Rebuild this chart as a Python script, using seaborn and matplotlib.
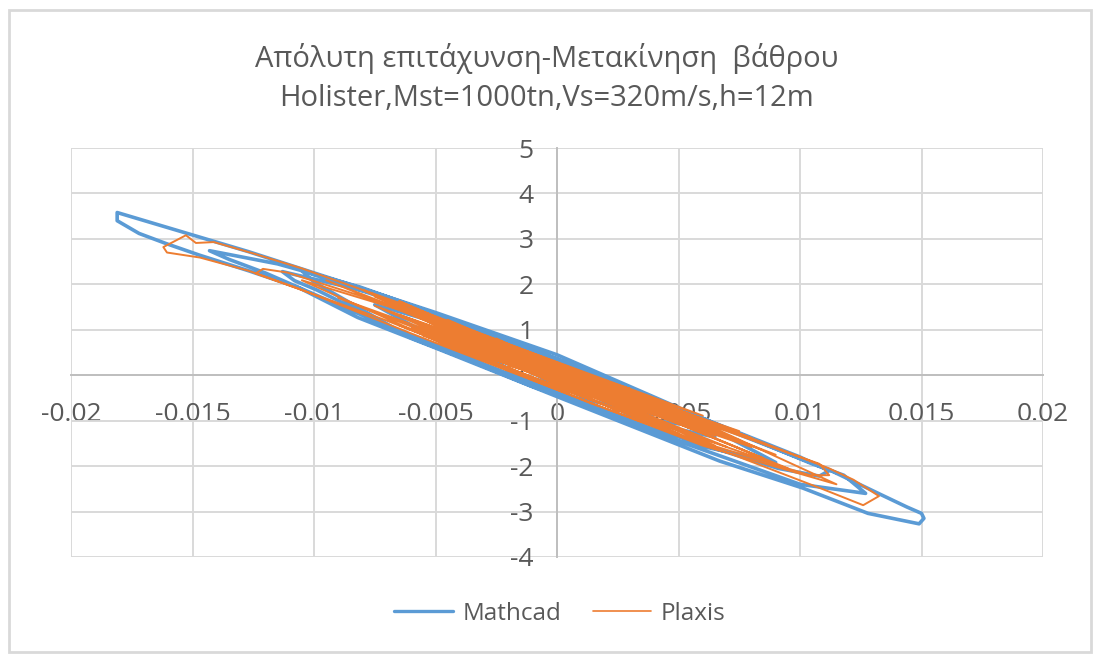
import matplotlib
matplotlib.use("Agg")
import matplotlib.pyplot as plt
import matplotlib.lines as mlines
from matplotlib.patches import Rectangle
import pandas as pd
import seaborn as sns

# ---- data: displacement (m) vs absolute acceleration (m/s2) ----
mathcad_disp = [
    0.0, -0.002, -0.004,
    -0.00175, 0.0005, 0.00275, 0.005,
    0.000925, -0.00315, -0.0072, -0.0113,
    -0.0108, -0.0099, -0.0062, -0.0011, 0.004, 0.0091, 0.0108, 0.0112, 0.0100,
    0.00483, -0.00155, -0.0081, -0.0115, -0.0143,
    -0.0135, -0.0120, -0.0075, -0.0009, 0.005, 0.0100, 0.0127,
    0.0118, 0.0105, 0.0064, 0.0, -0.005, -0.0082, -0.0127, -0.0181, -0.0181,
    -0.0172, -0.0161, -0.0147, -0.0127, -0.0106, -0.0082, -0.005, 0.0, 0.0067, 0.0101, 0.0128, 0.0149, 0.0151,
    0.0150, 0.0144, 0.0133, 0.0112, 0.0067, 0.0, -0.006, -0.0105,
    -0.0100, -0.006, 0.0, 0.005, 0.009,
    0.004, -0.002, -0.0075,
    -0.003, 0.002, 0.0065,
    0.002, -0.003, -0.005,
    0.0, 0.004,
    0.001, -0.002,
    0.0, 0.0005,
]
mathcad_acc = [
    -0.05, 0.66, 0.77,
    0.03, -0.50, -0.89, -1.07,
    0.10, 1.01, 1.76, 2.28,
    2.08, 1.88, 0.90, -0.23, -1.19, -2.05, -2.22, -2.10, -1.80,
    -0.70, 0.69, 1.94, 2.45, 2.74,
    2.55, 2.25, 1.20, -0.20, -1.45, -2.40, -2.60,
    -2.20, -1.95, -1.04, 0.45, 1.38, 1.94, 2.72, 3.58, 3.40,
    3.12, 2.90, 2.64, 2.30, 1.92, 1.27, 0.60, -0.47, -1.89, -2.48, -3.04, -3.27, -3.15,
    -3.04, -2.90, -2.62, -2.08, -1.14, 0.36, 1.50, 2.30,
    2.05, 0.82, -0.42, -1.45, -1.92,
    -0.50, 0.72, 1.55,
    0.22, -0.85, -1.36,
    -0.10, 0.85, 0.97,
    -0.40, -0.87,
    0.10, 0.36,
    -0.25, -0.15,
]

plaxis_disp = [
    0.0, -0.003, 0.004, -0.005, 0.005, -0.006, 0.0065, -0.0045, 0.006,
    -0.007, 0.007, -0.0055, 0.008, -0.008,
    0.00075, 0.005625, 0.0104, 0.0112, 0.0108,
    0.0055, 0.00025, -0.005125, -0.0105,
    -0.0046, 0.0014, 0.0073, 0.0110, 0.0126, 0.01325,
    0.0122, 0.0112, 0.0060, 0.0, -0.006, -0.0105, -0.0125, -0.01412, -0.01486, -0.01527, -0.0162,
    -0.01605, -0.0147, -0.0127, -0.0105, -0.006, 0.0, 0.006, 0.0115,
    0.006, 0.0, -0.006, -0.0111, -0.0121, -0.0124,
    -0.007, 0.0, 0.0095, -0.0095, 0.009, -0.009,
    0.0045, -0.0065, 0.0075, -0.005, 0.0055, -0.0075, 0.0085, -0.004,
    0.006, -0.006, 0.0065, -0.0055, 0.005, -0.0065, 0.0065,
    -0.0045, 0.0055, -0.006, 0.004, -0.0035, 0.0065, -0.005, 0.0045,
    -0.004, 0.0035, -0.0065, 0.005, -0.003, 0.007, -0.0055, 0.003,
    -0.0025, 0.006, -0.0045, 0.0025, -0.0075, 0.0075, -0.002, 0.008,
    -0.0035, 0.0035, -0.0045, 0.0045, -0.003, 0.003, -0.0025, 0.0025,
    -0.002, 0.002, -0.0015, 0.0015, -0.001, 0.001, 0.0,
]
plaxis_acc = [
    -0.05, 0.86, -0.97, 1.07, -0.82, 1.02, -1.33, 1.22, -1.47,
    1.58, -1.18, 0.87, -1.58, 1.88,
    -0.40, -1.42, -2.20, -2.20, -1.95,
    -0.95, 0.18, 1.22, 2.09,
    0.67, -0.62, -1.76, -2.52, -2.86, -2.66,
    -2.30, -2.05, -0.97, 0.28, 1.50, 2.35, 2.68, 2.93, 2.91, 3.08, 2.82,
    2.70, 2.59, 2.30, 1.88, 0.92, -0.32, -1.55, -2.40,
    -1.05, 0.17, 1.39, 2.26, 2.34, 2.24,
    1.20, -0.28, -2.05, 2.09, -1.75, 1.70,
    -1.12, 1.33, -1.23, 0.87, -1.02, 1.73, -1.83, 0.92,
    -0.89, 1.47, -1.55, 1.30, -1.29, 1.10, -1.20,
    1.15, -1.17, 1.07, -0.55, 0.96, -1.13, 1.17, -1.17,
    0.57, -0.66, 1.63, -1.02, 0.46, -1.58, 1.12, -0.30,
    0.61, -1.12, 0.87, -0.78, 1.53, -1.43, 0.66, -1.38,
    0.61, -0.56, 0.67, -0.67, 0.66, -0.71, 0.81, -0.46,
    0.21, -0.16, 0.26, -0.56, 0.40, -0.20, -0.05,
]

series_names = ["Mathcad", "Plaxis"]
x_ticks = [-0.02, -0.015, -0.01, -0.005, 0.0, 0.005, 0.01, 0.015, 0.02]
x_tick_labels = ["-0.02", "-0.015", "-0.01", "-0.005", "0", "0.005", "0.01", "0.015", "0.02"]
y_ticks = [-4, -3, -2, -1, 0, 1, 2, 3, 4, 5]
y_tick_labels = ["-4", "-3", "-2", "-1", "0", "1", "2", "3", "4", "5"]
title_lines = ["Απόλυτη επιτάχυνση-Μετακίνηση  βάθρου",
               "Holister,Mst=1000tn,Vs=320m/s,h=12m"]

# ---- style ----
BLUE = "#5B9BD5"
ORANGE = "#ED7D31"
GRID = "#D9D9D9"
TEXT = "#595959"

sns.set_theme(style="white")
plt.rcParams["font.family"] = ["Open Sans", "DejaVu Sans"]

W, H = 1094, 654
fig = plt.figure(figsize=(W / 100, H / 100), dpi=100)
fig.patch.set_facecolor("white")

# chart frame
fig.add_artist(Rectangle((9 / W, 2 / H), (1091 - 9) / W, (644 - 2) / H,
                         transform=fig.transFigure, fill=False,
                         edgecolor=GRID, linewidth=2.0))

left, right, top, bottom = 71, 1043, 148, 557
ax = fig.add_axes([left / W, 1 - bottom / H, (right - left) / W, (bottom - top) / H])

mathcad = pd.DataFrame({"disp": mathcad_disp, "acc": mathcad_acc})
plaxis = pd.DataFrame({"disp": plaxis_disp, "acc": plaxis_acc})

sns.lineplot(data=mathcad, x="disp", y="acc", sort=False, estimator=None,
             color=BLUE, linewidth=2.6, ax=ax, zorder=3)
sns.lineplot(data=plaxis, x="disp", y="acc", sort=False, estimator=None,
             color=ORANGE, linewidth=1.4, ax=ax, zorder=4)

ax.set_xlim(-0.02, 0.02)
ax.set_ylim(-4, 5)
ax.set_xticks(x_ticks)
ax.set_xticklabels(x_tick_labels)
ax.set_yticks(y_ticks)
ax.set_yticklabels(y_tick_labels)
ax.set_xlabel("")
ax.set_ylabel("")

ax.grid(True, color=GRID, linewidth=1.4, zorder=0)
ax.set_axisbelow(True)
for side in ("top", "right"):
    ax.spines[side].set_visible(False)
ax.spines["left"].set_position(("data", 0))
ax.spines["bottom"].set_position(("data", 0))
for side in ("left", "bottom"):
    ax.spines[side].set_color("#BFBFBF")
    ax.spines[side].set_linewidth(1.4)
    ax.spines[side].set_zorder(1)

ax.tick_params(axis="x", length=0, pad=19, labelsize=19, labelcolor=TEXT)
ax.tick_params(axis="y", length=0, pad=17, labelsize=19, labelcolor=TEXT)

# title
fig.text(0.5, 1 - 58 / H, title_lines[0], ha="center", va="center",
         fontsize=21, color=TEXT)
fig.text(0.5, 1 - 98 / H, title_lines[1], ha="center", va="center",
         fontsize=21, color=TEXT)

# legend
handles = [mlines.Line2D([], [], color=BLUE, linewidth=2.4),
           mlines.Line2D([], [], color=ORANGE, linewidth=1.2)]
leg = fig.legend(handles, series_names, loc="center",
                 bbox_to_anchor=(560 / W, 1 - 614 / H), ncol=2, frameon=False,
                 fontsize=17.5, handlelength=2.4, handletextpad=0.4,
                 columnspacing=1.3)
for t in leg.get_texts():
    t.set_color(TEXT)

fig.savefig("out.png", dpi=100, facecolor="white")
